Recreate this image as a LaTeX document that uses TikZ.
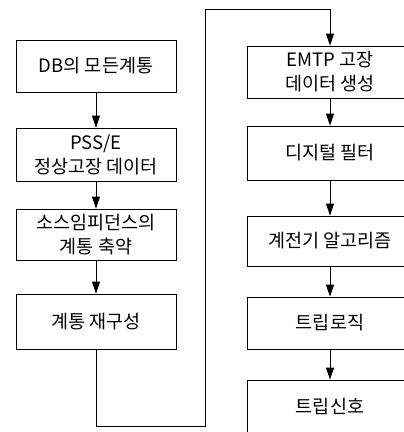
\documentclass[tikz,border=0pt]{standalone}
\usepackage{fontspec}
\setmainfont{Noto Sans CJK KR}
\usetikzlibrary{arrows.meta}
\begin{document}
\begin{tikzpicture}[x=1pt,y=-1pt,
  box/.style={draw,line width=0.9pt,minimum width=160pt,minimum height=52pt,inner sep=0pt,align=center,
    font=\fontsize{18.5}{24}\selectfont},
  rbox/.style={box,minimum width=166pt},
  arr/.style={-{Triangle[width=8pt,length=12pt]},line width=0.9pt},
  link/.style={line width=0.9pt}]
\clip (0,0) rectangle (404,432);
\fill[white] (0,0) rectangle (404,432);
\node[box] (a) at (96,66) {DB의 모든계통};
\node[box,minimum height=53pt] (b) at (96,154.5) {PSS/E\\정상고장 데이터};
\node[box,minimum height=51pt] (c) at (96,234.5) {소스임피던스의\\계통 축약};
\node[box,minimum height=55pt] (d) at (96,321.5) {계통 재구성};
\node[rbox] (e) at (330,72) {EMTP 고장\\데이터 생성};
\node[rbox,minimum height=54pt] (f) at (330,153) {디지털 필터};
\node[rbox,minimum height=50pt] (g) at (330,241) {계전기 알고리즘};
\node[rbox] (h) at (330,323) {트립로직};
\node[rbox,minimum height=84pt,text depth=0pt] (i) at (330,422) {};
\node[font=\fontsize{18.5}{24}\selectfont] (it) at (330,406) {트립신호};
\coordinate (p1) at (96,426);
\coordinate (p2) at (205,426);
\coordinate (p3) at (205,9);
\coordinate (p4) at (330,9);
\draw[arr] (a) -- (b);
\draw[arr] (b) -- (c);
\draw[arr] (c) -- (d);
\draw[link] (d.south) -- (p1) -- (p2) -- (p3) -- (p4);
\draw[arr] (p4) -- (e.north);
\draw[arr] (e) -- (f);
\draw[arr] (f) -- (g);
\draw[arr] (g) -- (h);
\draw[arr] (h) -- (i.north);
\end{tikzpicture}
\end{document}
